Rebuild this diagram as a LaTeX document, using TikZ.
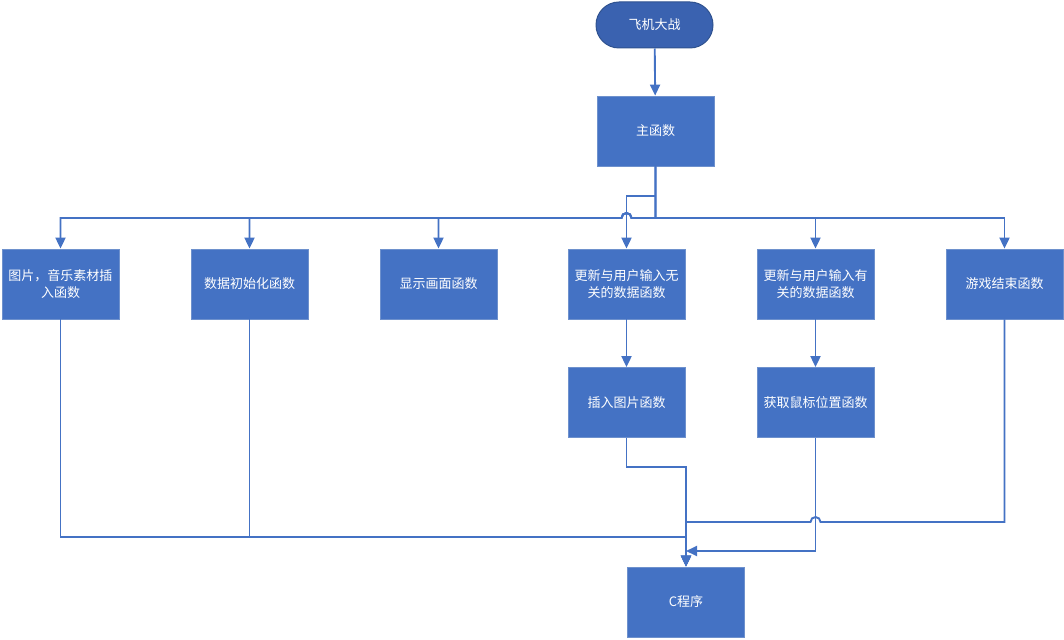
\documentclass[tikz,border=0pt]{standalone}
\usepackage{fontspec}
\setmainfont{Noto Sans CJK SC}
\usetikzlibrary{arrows.meta}
\definecolor{boxblue}{RGB}{68,114,196}
\definecolor{boxedge}{RGB}{110,145,205}
\definecolor{termfill}{RGB}{58,98,176}
\definecolor{termedge}{RGB}{47,82,143}
\definecolor{linec}{RGB}{68,114,196}
\tikzset{
  procbox/.style={draw=boxedge,line width=0.8pt,fill=boxblue,minimum width=117pt,minimum height=70pt,inner sep=0pt,text=white,align=center,font=\fontsize{13}{17.5}\selectfont},
  termbox/.style={draw=termedge,line width=1pt,fill=termfill,rounded corners=23pt,minimum width=117pt,minimum height=46pt,inner sep=0pt,text=white,font=\fontsize{13}{17.5}\selectfont},
  conn/.style={draw=linec,line width=1.9pt},
  arr/.style={conn,-{Triangle[width=10pt,length=11pt]}},
}
\begin{document}
\begin{tikzpicture}[x=1pt,y=-1pt]
\useasboundingbox (0,0) rectangle (1064,639);
\node[termbox] (start) at (654.5,25) {飞机大战};
\node[procbox] (main) at (655.5,131) {主函数};
\node[procbox] (b1) at (60.5,284) {图片，音乐素材插\\入函数};
\node[procbox] (b2) at (249.5,284) {数据初始化函数};
\node[procbox] (b3) at (438.5,284) {显示画面函数};
\node[procbox] (b4) at (626.5,284) {更新与用户输入无\\关的数据函数};
\node[procbox] (b5) at (815.5,284) {更新与用户输入有\\关的数据函数};
\node[procbox] (b6) at (1004.5,284) {游戏结束函数};
\node[procbox] (ins) at (626.5,402.5) {插入图片函数};
\node[procbox] (mouse) at (815.5,402.5) {获取鼠标位置函数};
\node[procbox] (cprog) at (686,602) {C程序};

\coordinate (bus) at (655.5,218);
\coordinate (split) at (655.5,196);
\coordinate (cx) at (686,551);

\draw[arr] (start) -- (main);
% bus to the left with jump over the vertical at x=626.5
\draw[arr] (main.south) -- (bus) -- (631.5,218) arc[start angle=0,end angle=180,radius=5pt] -- (621.5,218) -| (b1.north);
\draw[arr] (main.south) -- (bus) -- (631.5,218) arc[start angle=0,end angle=180,radius=5pt] -- (621.5,218) -| (b2.north);
\draw[arr] (main.south) -- (bus) -- (631.5,218) arc[start angle=0,end angle=180,radius=5pt] -- (621.5,218) -| (b3.north);
\draw[arr] (main.south) -- (split) -| (b4.north);
\draw[arr] (main.south) -- (bus) -| (b5.north);
\draw[arr] (main.south) -- (bus) -| (b6.north);

\draw[arr] (b4) -- (ins);
\draw[arr] (b5) -- (mouse);

\draw[arr] (b1.south) |- (686,537) -- (cprog.north);
\draw[arr] (b2.south) |- (686,537) -- (cprog.north);
\draw[arr] (ins.south) |- (686,467) -- (cprog.north);
\draw[arr] (b6.south) |- (820.5,522) arc[start angle=0,end angle=180,radius=5pt] -- (686,522) -- (cprog.north);
\draw[arr] (mouse.south) |- (cx);
\end{tikzpicture}
\end{document}
